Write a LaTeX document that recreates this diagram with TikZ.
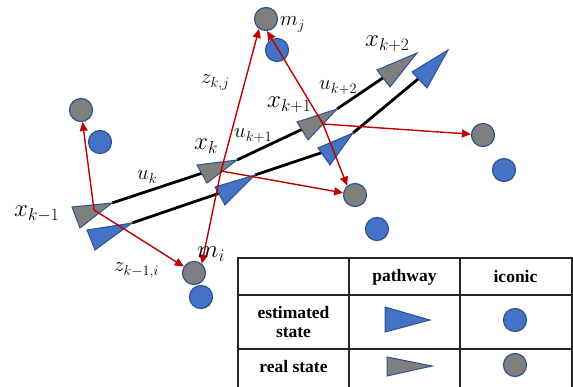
\documentclass[tikz,border=0pt]{standalone}
\usepackage{fontspec}
\setmainfont{Liberation Serif}
\usetikzlibrary{arrows.meta,calc}
\definecolor{estblue}{HTML}{4472C4}
\definecolor{edgeblue}{HTML}{2F528F}
\definecolor{realgray}{HTML}{7F7F7F}
\definecolor{obsred}{HTML}{C00000}
\tikzset{
  realmark/.style={circle,fill=realgray,draw=edgeblue,line width=1.2pt,minimum size=23pt,inner sep=0pt},
  estmark/.style={circle,fill=estblue,draw=edgeblue,line width=1.2pt,minimum size=23pt,inner sep=0pt},
  realtri/.style={fill=realgray,draw=edgeblue,line width=1pt,line join=miter},
  esttri/.style={fill=estblue,draw=edgeblue,line width=1pt,line join=miter},
  pathline/.style={line width=2.8pt,black},
  obs/.style={draw=obsred,line width=1.4pt,-{Triangle[length=9pt,width=8pt]}},
  biglab/.style={font=\fontsize{27}{27}\selectfont,inner sep=0pt,anchor=base west},
  smalllab/.style={font=\fontsize{22}{22}\selectfont,inner sep=0pt,anchor=base west},
  tabtext/.style={font=\fontsize{17.5}{19}\selectfont\bfseries,align=center,inner sep=0pt},
  tabline/.style={line width=1.3pt,black!85}
}
\begin{document}
\begin{tikzpicture}[x=1pt,y=-1pt]
\useasboundingbox (0,0) rectangle (573,387);
% triangle vertices: tip, base a, base b
\coordinate (gkmt) at (112,203); \coordinate (gkma) at (72,207);  \coordinate (gkmb) at (80,228);
\coordinate (bkmt) at (132,223); \coordinate (bkma) at (87,230);  \coordinate (bkmb) at (95,250);
\coordinate (gk0t) at (237,160); \coordinate (gk0a) at (197,165); \coordinate (gk0b) at (207,183);
\coordinate (bk0t) at (255,175); \coordinate (bk0a) at (215,187); \coordinate (bk0b) at (225,205);
\coordinate (gk1t) at (337,109); \coordinate (gk1a) at (297,122); \coordinate (gk1b) at (308,140);
\coordinate (bk1t) at (353,133); \coordinate (bk1a) at (318,148); \coordinate (bk1b) at (330,165);
\coordinate (gk2t) at (417,53);  \coordinate (gk2a) at (377,70);  \coordinate (gk2b) at (390,87);
\coordinate (bk2t) at (448,50);  \coordinate (bk2a) at (412,72);  \coordinate (bk2b) at (427,88);
\foreach \n in {gkm,bkm,gk0,bk0,gk1,bk1,gk2,bk2}{
  \coordinate (\n c) at ($ 0.3333*(\n t) + 0.3333*(\n a) + 0.3333*(\n b) $);
}
% pathways
\draw[pathline] (gkmt) -- (gk0c);
\draw[pathline] (gk0t) -- (gk1c);
\draw[pathline] (gk1t) -- (gk2c);
\draw[pathline] (bkmt) -- (bk0c);
\draw[pathline] (bk0t) -- (bk1c);
\draw[pathline] (bk1t) -- (bk2c);
% triangles
\foreach \n in {bkm,bk0,bk1,bk2}{ \filldraw[esttri] (\n t) -- (\n a) -- (\n b) -- cycle; }
\foreach \n in {gkm,gk0,gk1,gk2}{ \filldraw[realtri] (\n t) -- (\n a) -- (\n b) -- cycle; }
% landmarks
\node[estmark]  (mjb) at (277,50) {};
\node[realmark] (mj)  at (266,19) {};
\node[estmark]  (L1b) at (100,142) {};
\node[realmark] (L1g) at (81,110) {};
\node[estmark]  (M2b) at (377,229) {};
\node[realmark] (M2g) at (355,195) {};
\node[estmark]  (R3b) at (504,170) {};
\node[realmark] (R3g) at (483,135) {};
\node[estmark]  (mib) at (201,297) {};
\node[realmark] (mi)  at (194,273) {};
% observation origins
\coordinate (okm) at (94,210);
\coordinate (ok0) at (221,171);
\coordinate (ok1) at (323,124);
% observations
\draw[obs] (okm) -- (L1g);
\draw[obs] (okm) -- (mi);
\draw[obs] (ok0) -- (mj.235);
\draw[obs] (ok0) -- (mi.50);
\draw[obs] (ok0) -- (M2g);
\draw[obs] (ok1) -- (mj.275);
\draw[obs] (ok1) -- (M2g.130);
\draw[obs] (ok1) -- (R3g);
% labels
\node[biglab] (lxkm) at (14,217) {$x_{k-1}$};
\node[biglab] (lxk0) at (194,150) {$x_{k}$};
\node[biglab] (lxk1) at (267,108) {$x_{k+1}$};
\node[biglab] (lxk2) at (365,47) {$x_{k+2}$};
\node[smalllab] (luk0) at (137,180) {$u_{k}$};
\node[smalllab] (luk1) at (234,138) {$u_{k+1}$};
\node[smalllab] (luk2) at (319,90) {$u_{k+2}$};
\node[smalllab] (lzkj) at (201,84) {$z_{k,j}$};
\node[smalllab] (lzki) at (114,272) {$z_{k-1,i}$};
\node[smalllab] (lmj) at (280,26) {$m_{j}$};
\node[biglab,font=\fontsize{25}{25}\selectfont] (lmi) at (197,258) {$m_{i}$};
% table
\fill[white] (238,258) rectangle (573,388);
\draw[tabline] (238,388) -- (238,258) -- (572,258) -- (572,388);
\draw[tabline] (349,258) -- (349,388);
\draw[tabline] (460,258) -- (460,388);
\draw[tabline] (238,295) -- (572,295);
\draw[tabline] (238,349) -- (572,349);
\node[tabtext] (hpath) at (404.5,277) {pathway};
\node[tabtext] (hicon) at (515.5,277) {iconic};
\node[tabtext] (hest) at (293.5,322) {estimated\\state};
\node[tabtext] (hreal) at (293.5,367) {real state};
\filldraw[esttri] (430,320) -- (385,307) -- (385,332) -- cycle;
\filldraw[realtri] (432,366) -- (387,357) -- (387,376) -- cycle;
\node[estmark] (legb) at (515,320) {};
\node[realmark] (legg) at (515,365) {};
\end{tikzpicture}
\end{document}
